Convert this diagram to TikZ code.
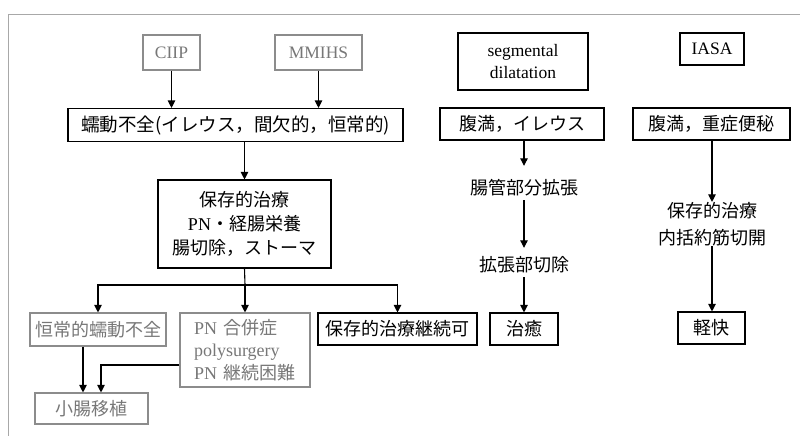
\documentclass[tikz,border=0pt]{standalone}
\usepackage{fontspec}
\setmainfont{Liberation Serif}
\newfontfamily\jp{Noto Sans CJK JP}
\usetikzlibrary{arrows.meta}
\definecolor{gtext}{HTML}{777777}
\definecolor{gline}{HTML}{8C8C8C}
\definecolor{framec}{HTML}{A8A8A8}
\begin{document}
\begin{tikzpicture}[x=1pt,y=-1pt,
  box/.style={draw=black,line width=1.1pt,inner sep=0pt,align=center,
    font=\fontsize{18}{24}\selectfont\jp},
  gbox/.style={box,draw=gline,text=gtext},
  lat/.style={font=\fontsize{17.5}{21.5}\selectfont\rmfamily},
  lbl/.style={inner sep=0pt,align=center,font=\fontsize{18}{27}\selectfont\jp},
  arr/.style={-{Triangle[length=7.5pt,width=7.5pt]},line width=1.1pt},
  ln/.style={line width=1.1pt}]
\useasboundingbox (0,0) rectangle (800,436);
% partial outer frame
\draw[framec,line width=0.7pt] (8,436) -- (8,14) -- (800,14);

% left column
\node[gbox,lat,minimum width=57,minimum height=35] (ciip) at (171.5,52.5) {CIIP};
\node[gbox,lat,minimum width=87,minimum height=35] (mmihs) at (318.5,52.5) {MMIHS};
\node[box,minimum width=335,minimum height=33,font=\fontsize{18.5}{24}\selectfont\jp] (pd) at (235.5,125) {蠕動不全(イレウス，間欠的，恒常的)};
\node[box,minimum width=173,minimum height=88] (cons) at (244.5,224)
  {\raisebox{-3pt}{保存的治療}\\\raisebox{-3pt}{{\rmfamily PN}・経腸栄養}\\\raisebox{-3pt}{腸切除，ストーマ}};
\node[gbox,minimum width=136,minimum height=33] (chronic) at (98,329.5) {恒常的蠕動不全};
\node[gbox,minimum width=130,minimum height=74,align=left,text width=102,
  font=\fontsize{18}{22.5}\selectfont\jp] (pncomp) at (245,350)
  {{\rmfamily PN} 合併症\\{\rmfamily polysurgery}\\{\rmfamily PN} 継続困難};
\node[box,minimum width=159,minimum height=32] (cont) at (397.5,329) {保存的治療継続可};
\node[gbox,minimum width=113,minimum height=31] (sbt) at (91.5,408.5) {小腸移植};

\draw[arr] (ciip.south) -- (ciip.south |- pd.north);
\draw[arr] (mmihs.south) -- (mmihs.south |- pd.north);
\draw[arr] (cons.north |- pd.south) -- (cons.north);
\coordinate (br) at (245,285);
\draw[ln] (cons.south) -- (br);
\draw[arr] (br) -| (chronic.north);
\draw[arr] (br) -- (pncomp.north);
\draw[arr] (br) -| (cont.north);
\draw[arr] ([xshift=-15pt]chronic.south) -- ([xshift=-15pt]chronic.south |- sbt.north);
\draw[arr] ([yshift=-15pt]pncomp.west) -| ([xshift=9.5pt]sbt.north);

% segmental dilatation column
\node[box,lat,minimum width=130,minimum height=57] (seg) at (523,61.5) {segmental\\dilatation};
\node[box,minimum width=164,minimum height=32] (ileus) at (522,124) {腹満，イレウス};
\node[lbl,minimum height=24] (t1) at (524,188) {腸管部分拡張};
\node[lbl,minimum height=24] (t2) at (524,265) {拡張部切除};
\node[box,minimum width=68,minimum height=32] (cure) at (524,329) {治癒};
\draw[arr] (t1.north |- ileus.south) -- ([yshift=10pt]t1.north);
\draw[arr] (t1.south) -- ([yshift=5pt]t2.north);
\draw[arr] (t2.south) -- (cure.north);

% IASA column
\node[box,lat,minimum width=64,minimum height=32] (iasa) at (712,49) {IASA};
\node[box,minimum width=157,minimum height=32] (constip) at (711.5,124) {腹満，重症便秘};
\node[lbl] (t3) at (712,224) {保存的治療\\内括約筋切開};
\node[box,minimum width=67,minimum height=32] (relief) at (711.5,328) {軽快};
\draw[arr] (t3.north |- constip.south) -- (t3.north);
\draw[arr] (t3.south) -- (t3.south |- relief.north);
\end{tikzpicture}
\end{document}
